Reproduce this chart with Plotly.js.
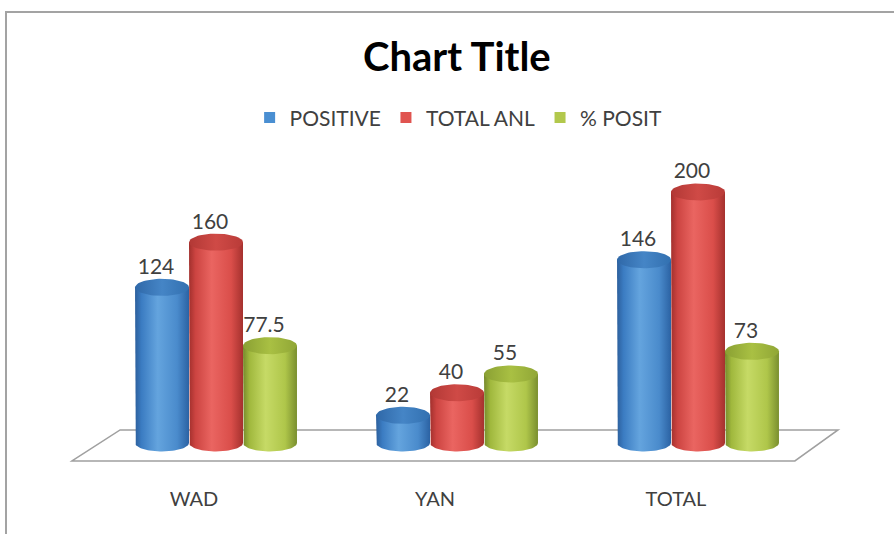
<!DOCTYPE html>
<html>
<head>
<meta charset="utf-8">
<script src="https://cdn.plot.ly/plotly-3.0.1.min.js"></script>
<style>
  html, body { margin: 0; padding: 0; background: #ffffff; overflow: hidden; }
  #chart { position: absolute; left: 0; top: 0; width: 894px; height: 534px; }
  #frame { position: absolute; left: 5px; top: 11px; width: 1000px; height: 1000px;
           border-left: 2px solid #a3a3a3; border-top: 2px solid #a3a3a3; pointer-events: none; }
</style>
</head>
<body>
<div id="chart"></div>
<div id="frame"></div>
<script>
// ---- data ----
const categories = ['WAD', 'YAN', 'TOTAL'];
const seriesNames = ['POSITIVE', 'TOTAL ANL', '% POSIT'];
const positive = [124, 22, 146];
const totalAnl = [160, 40, 200];
const pctPosit = [77.5, 55, 73];
const valueLabels = [
  ['124', '22', '146'],
  ['160', '40', '200'],
  ['77.5', '55', '73']
];

// ---- styles ----
const legendColors = ['#4a8fd2', '#e05450', '#b2c84c'];
const bodyScales = [
  [[0, '#2c5f9c'], [0.12, '#3b7cc2'], [0.42, '#64a4de'], [0.78, '#4a8bcc'], [1, '#2b62a3']],
  [[0, '#a2302d'], [0.12, '#cc4441'], [0.42, '#ea6561'], [0.78, '#da4e4a'], [1, '#a5312e']],
  [[0, '#76892c'], [0.12, '#a0b83d'], [0.42, '#c6da66'], [0.78, '#afc64a'], [1, '#7a8f2f']]
];
const capScales = [
  [[0, '#2f68a8'], [0.5, '#4585c6'], [1, '#3270b0']],
  [[0, '#b23835'], [0.5, '#cf4a46'], [1, '#b93b38']],
  [[0, '#8aa033'], [0.5, '#a9c043'], [1, '#90a636']]
];
const font = 'Lato, "Open Sans", sans-serif';
const HW = 0.112;   // half width of a cylinder (x units)
const RY = 6.8;     // ellipse vertical radius (y units)
const GROUP_OFF = 0.224;
const LABEL_UP = 15;

const seriesValues = [positive, totalAnl, pctPosit];
const traces = [];

// cylinders
seriesValues.forEach((vals, s) => {
  vals.forEach((v, i) => {
    const xc = i + (s - 1) * GROUP_OFF;
    const bx = [], by = [];
    bx.push(xc - HW); by.push(v);
    const N = 40;
    for (let k = 0; k <= N; k++) {
      const t = Math.PI * k / N;
      bx.push(xc - HW * Math.cos(t));
      by.push(-RY * Math.sin(t));
    }
    bx.push(xc + HW); by.push(v);
    bx.push(xc - HW); by.push(v);
    traces.push({
      type: 'scatter', mode: 'lines', x: bx, y: by, fill: 'toself',
      fillgradient: { type: 'horizontal', colorscale: bodyScales[s] },
      line: { width: 0, color: 'rgba(0,0,0,0)' },
      showlegend: false, hoverinfo: 'skip'
    });
    const cx = [], cy = [];
    for (let k = 0; k <= 60; k++) {
      const t = 2 * Math.PI * k / 60;
      cx.push(xc + HW * Math.cos(t));
      cy.push(v + RY * Math.sin(t));
    }
    traces.push({
      type: 'scatter', mode: 'lines', x: cx, y: cy, fill: 'toself',
      fillgradient: { type: 'horizontal', colorscale: capScales[s] },
      line: { width: 0, color: 'rgba(0,0,0,0)' },
      showlegend: false, hoverinfo: 'skip'
    });
  });
});

// value labels
seriesValues.forEach((vals, s) => {
  traces.push({
    type: 'scatter', mode: 'text',
    x: vals.map((v, i) => i + (s - 1) * GROUP_OFF - 0.025),
    y: vals.map(v => v + LABEL_UP),
    text: valueLabels[s],
    textposition: 'middle center',
    textfont: { family: font, size: 21, color: '#404040' },
    showlegend: false, hoverinfo: 'skip', cliponaxis: false
  });
});

// legend entries
seriesNames.forEach((name, s) => {
  traces.push({
    type: 'scatter', mode: 'markers', x: [null], y: [null], name: name,
    marker: { symbol: 'square', size: 11, color: legendColors[s] },
    showlegend: true
  });
});

const layout = {
  width: 894, height: 534,
  margin: { l: 0, r: 0, t: 0, b: 49, pad: 0 },
  paper_bgcolor: 'rgba(0,0,0,0)', plot_bgcolor: 'rgba(0,0,0,0)',
  title: {
    text: '<b>Chart Title</b>',
    font: { family: font, size: 40, color: '#000000' },
    x: 0.511, xanchor: 'center', y: 0.893, yanchor: 'middle'
  },
  showlegend: true,
  legend: {
    orientation: 'h', x: 0.513, xanchor: 'center', y: 0.757, yanchor: 'middle',
    font: { family: font, size: 21, color: '#404040' },
    itemwidth: 30, bgcolor: 'rgba(0,0,0,0)'
  },
  xaxis: {
    range: [-0.8963, 2.8133], showgrid: false, zeroline: false, showline: false,
    tickmode: 'array', tickvals: categories.map((c, i) => i - 0.0913), ticktext: categories,
    ticks: '', tickfont: { family: font, size: 20, color: '#404040' }, fixedrange: true
  },
  yaxis: { range: [-33.5, 353.0], visible: false, fixedrange: true },
  shapes: [{
    type: 'path', xref: 'x', yref: 'y', layer: 'below',
    path: 'M -0.5975 -14.34 L -0.398 10.36 L 2.581 10.36 L 2.402 -14.34 Z',
    line: { color: '#a0a0a0', width: 1.5 }, fillcolor: 'rgba(255,255,255,0)'
  }]
};

Plotly.newPlot('chart', traces, layout, { staticPlot: true, displayModeBar: false });
</script>
</body>
</html>
